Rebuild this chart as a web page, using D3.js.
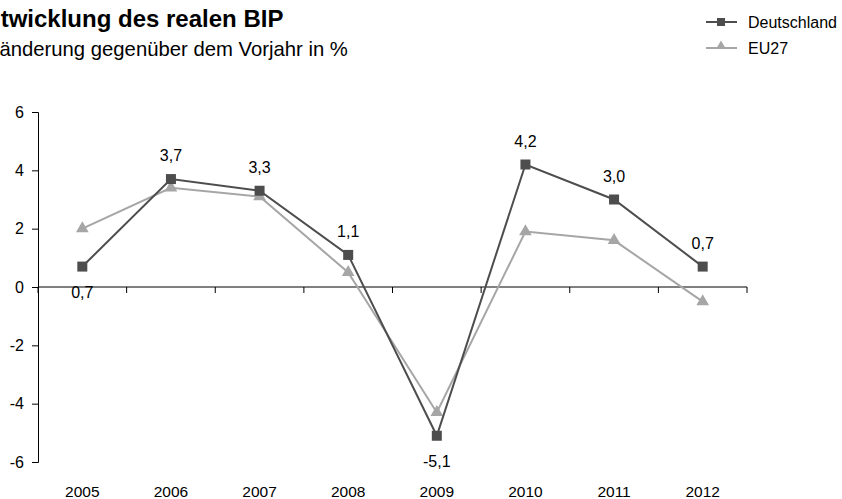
<!DOCTYPE html>
<html>
<head>
<meta charset="utf-8">
<script src="https://cdn.jsdelivr.net/npm/d3@7"></script>
<style>
  html, body { margin: 0; padding: 0; background: #fff; }
  svg { display: block; font-family: "Liberation Sans", Arial, sans-serif; }
</style>
</head>
<body>
<svg id="chart" width="842" height="499"></svg>
<script>
// Reales BIP, Veränderung gegenüber dem Vorjahr in %
const years = ["2005", "2006", "2007", "2008", "2009", "2010", "2011", "2012"];
const deutschland = [0.7, 3.7, 3.3, 1.1, -5.1, 4.2, 3.0, 0.7];
const eu27 = [2.0, 3.4, 3.1, 0.5, -4.3, 1.9, 1.6, -0.5];
const yTicks = [-6, -4, -2, 0, 2, 4, 6];
// labels below the point for these indices
const labelBelow = [0, 4];

const colDE = "#4d4d4d";
const colEU = "#a6a6a6";

const svg = d3.select("#chart");
const plotLeft = 38, plotRight = 747, plotTop = 112, plotBottom = 462;

const x = d3.scaleBand().domain(years).range([plotLeft, plotRight]);
const y = d3.scaleLinear().domain([-6, 6]).range([plotBottom, plotTop]);

// German number format with a plain hyphen for negatives
const fmt = v => (v < 0 ? "-" : "") + d3.format(".1f")(Math.abs(v)).replace(".", ",");

// Title and subtitle (start left of the visible area)
svg.append("text").attr("x", -30).attr("y", 27)
  .attr("font-size", 24).attr("font-weight", "bold").attr("fill", "#000")
  .text("Entwicklung des realen BIP");
svg.append("text").attr("x", -31).attr("y", 56)
  .attr("font-size", 20.3).attr("fill", "#000")
  .text("Veränderung gegenüber dem Vorjahr in %");

// Y axis
const yAxis = d3.axisLeft(y).tickValues(yTicks).tickSize(6).tickPadding(8)
  .tickFormat(d => d < 0 ? "-" + Math.abs(d) : String(d));
const gy = svg.append("g").attr("transform", `translate(${plotLeft},0)`).call(yAxis);
gy.select(".domain").attr("stroke", "#000").attr("stroke-width", 1);
gy.selectAll(".tick line").attr("stroke", "#000");
gy.selectAll(".tick text").attr("font-size", 16).attr("fill", "#000")
  .attr("font-family", "Liberation Sans, Arial, sans-serif");

// X axis along the zero line, ticks between categories
const gx = svg.append("g").attr("transform", `translate(0,${y(0)})`);
gx.append("line").attr("x1", plotLeft).attr("x2", plotRight)
  .attr("stroke", "#000").attr("stroke-width", 1);
const bounds = d3.range(years.length + 1).map(i => plotLeft + i * x.step());
gx.selectAll("line.tk").data(bounds).join("line").attr("class", "tk")
  .attr("x1", d => d).attr("x2", d => d).attr("y1", 0).attr("y2", 6)
  .attr("stroke", "#000");

// Year labels at the bottom
svg.append("g").selectAll("text").data(years).join("text")
  .attr("x", d => x(d) + x.bandwidth() / 2).attr("y", 497)
  .attr("text-anchor", "middle").attr("font-size", 15.5).attr("fill", "#000")
  .text(d => d);

const cx = i => x(years[i]) + x.bandwidth() / 2;
const line = d3.line().x((d, i) => cx(i)).y(d => y(d));

// EU27 series
svg.append("path").datum(eu27).attr("d", line)
  .attr("fill", "none").attr("stroke", colEU).attr("stroke-width", 2);
svg.append("g").selectAll("path").data(eu27).join("path")
  .attr("transform", (d, i) => `translate(${cx(i)},${y(d)})`)
  .attr("d", d3.symbol(d3.symbolTriangle, 70)())
  .attr("fill", colEU);

// Deutschland series
svg.append("path").datum(deutschland).attr("d", line)
  .attr("fill", "none").attr("stroke", colDE).attr("stroke-width", 2);
svg.append("g").selectAll("rect").data(deutschland).join("rect")
  .attr("x", (d, i) => cx(i) - 5).attr("y", d => y(d) - 5)
  .attr("width", 10).attr("height", 10).attr("fill", colDE);

// Value labels for Deutschland
svg.append("g").selectAll("text").data(deutschland).join("text")
  .attr("x", (d, i) => cx(i))
  .attr("y", (d, i) => labelBelow.includes(i) ? y(d) + 31 : y(d) - 18)
  .attr("text-anchor", "middle").attr("font-size", 16).attr("fill", "#000")
  .text(d => fmt(d));

// Legend
const lg = svg.append("g");
lg.append("line").attr("x1", 706).attr("x2", 737).attr("y1", 22).attr("y2", 22)
  .attr("stroke", colDE).attr("stroke-width", 2);
lg.append("rect").attr("x", 717).attr("y", 18).attr("width", 8).attr("height", 8)
  .attr("fill", colDE);
lg.append("text").attr("x", 748).attr("y", 28).attr("font-size", 16).attr("fill", "#000")
  .text("Deutschland");
lg.append("line").attr("x1", 706).attr("x2", 737).attr("y1", 48).attr("y2", 48)
  .attr("stroke", colEU).attr("stroke-width", 2);
lg.append("path").attr("transform", "translate(721,46)")
  .attr("d", d3.symbol(d3.symbolTriangle, 40)()).attr("fill", colEU);
lg.append("text").attr("x", 748).attr("y", 54).attr("font-size", 16).attr("fill", "#000")
  .text("EU27");
</script>
</body>
</html>
